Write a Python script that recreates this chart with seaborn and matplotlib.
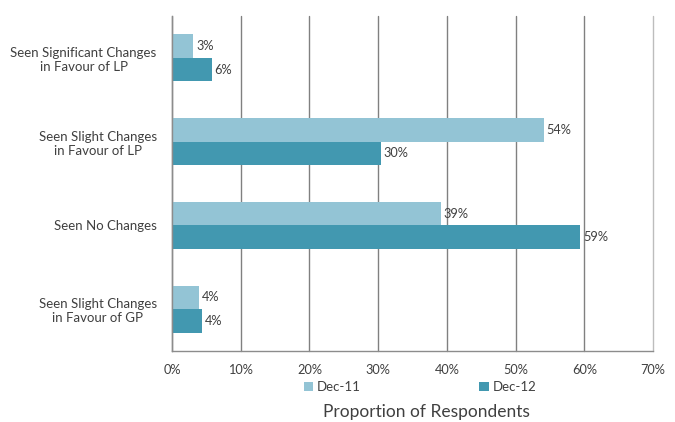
import matplotlib
matplotlib.use("Agg")
import matplotlib.pyplot as plt
import seaborn as sns
import pandas as pd
from matplotlib.ticker import FixedLocator, PercentFormatter

categories = [
    "Seen Significant Changes\nin Favour of LP",
    "Seen Slight Changes\nin Favour of LP",
    "Seen No Changes",
    "Seen Slight Changes\nin Favour of GP",
]
series = ["Dec-11", "Dec-12"]
dec11 = [3.1, 54.1, 39.1, 3.9]
dec12 = [5.8, 30.4, 59.4, 4.4]
x_ticks = [0, 10, 20, 30, 40, 50, 60, 70]
colors = ["#93C4D5", "#4298B0"]

df = pd.DataFrame({
    "Category": categories * 2,
    "Series": [series[0]] * 4 + [series[1]] * 4,
    "Value": dec11 + dec12,
})

sns.set_style("white")
plt.rcParams["font.family"] = ["Lato", "DejaVu Sans"]
text_color = "#404040"

fig = plt.figure(figsize=(6.75, 4.22), dpi=100)
ax = fig.add_axes([172 / 675, 1 - 351 / 422, (653 - 172) / 675, (351 - 16) / 422])

sns.barplot(data=df, y="Category", x="Value", hue="Series", hue_order=series,
            order=categories, palette=colors, saturation=1, orient="h",
            width=0.56, linewidth=0, ax=ax, legend=True)

for cont in ax.containers:
    ax.bar_label(cont, fmt="%.0f%%", padding=2, fontsize=9.2, color=text_color)

ax.set_xlim(0, 70)
ax.set_ylim(3.5, -0.5)
ax.set_xticks(x_ticks)
ax.xaxis.set_major_formatter(PercentFormatter(decimals=0))
ax.grid(axis="x", color="#808080", linewidth=1)
ax.set_axisbelow(True)
for gl in ax.get_xgridlines():
    gl.set_clip_on(False)
ax.get_xgridlines()[-1].set_color("#bdbdbd")

for s in ["top", "right"]:
    ax.spines[s].set_visible(False)
for s in ["left", "bottom"]:
    ax.spines[s].set_color("#8c8c8c")
    ax.spines[s].set_linewidth(1)

ax.tick_params(axis="x", direction="out", length=5, color="#8c8c8c",
               labelsize=9.2, labelcolor=text_color, pad=4)
ax.tick_params(axis="y", which="major", length=0, labelsize=9.5,
               labelcolor=text_color, pad=11)
ax.yaxis.set_minor_locator(FixedLocator([-0.5, 0.5, 1.5, 2.5, 3.5]))
ax.tick_params(axis="y", which="minor", direction="out", length=5, color="#8c8c8c")
for lbl in ax.get_yticklabels():
    lbl.set_multialignment("center")

ax.set_xlabel("")
ax.set_ylabel("")

leg = ax.get_legend()
leg.remove()
handles, labels = ax.get_legend_handles_labels()
fig.legend(handles[:2], labels[:2], loc="center", ncol=2,
           bbox_to_anchor=(420 / 675, 1 - 387 / 422), frameon=False,
           fontsize=9.5, handlelength=0.7, handleheight=0.7, handletextpad=0.3,
           columnspacing=9.0, labelcolor=text_color)

fig.text(426 / 675, 1 - 412 / 422, "Proportion of Respondents", ha="center",
         va="center", fontsize=12.5, color=text_color)

fig.savefig("out.png", dpi=100)
